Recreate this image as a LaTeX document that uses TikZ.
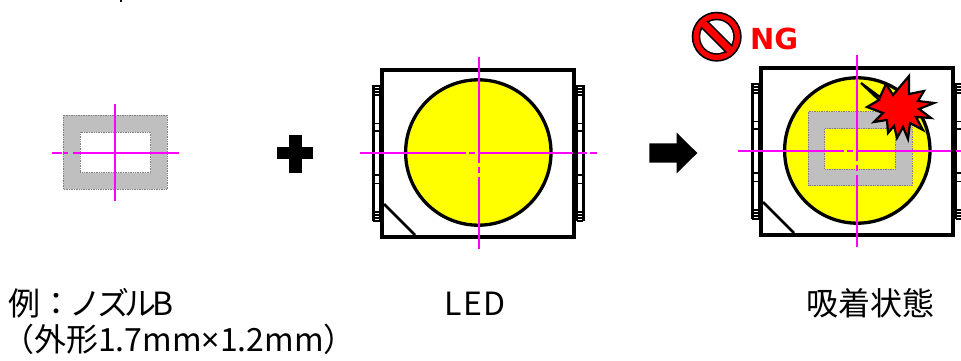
\documentclass[tikz,border=0pt]{standalone}
\usepackage{fontspec}
\setmainfont{Noto Sans CJK JP}
\newfontfamily\latinfont{Noto Sans}
\newfontfamily\ngfont{DejaVu Sans}

\definecolor{ctrline}{RGB}{255,0,255}
\definecolor{nozzlegray}{RGB}{191,191,191}
\definecolor{ledyellow}{RGB}{255,255,0}
\definecolor{ngred}{RGB}{255,0,0}

\tikzset{
    axis line/.style={draw=ctrline, line width=2pt},
    nozzle/.style={fill=nozzlegray, draw=gray, densely dotted, line width=0.7pt, even odd rule},
    body/.style={draw=black, fill=white, line width=4.3pt},
    pin/.style={line width=1.6pt},
    lbl/.style={font=\fontsize{32}{36}\selectfont, inner sep=0pt},
}

% LED chip, drawn at the place of the middle one
\newcommand{\ledchip}{%
    \foreach \xa/\xb in {373.3/379.5, 583.3/577.1} {
        \draw[line width=3pt] (\xa,85) -- (\xa,221);
        \draw[line width=2pt] (\xb,85) -- (\xb,221);
        \foreach \yy in {86,89,92,95,123.3,131,175,183.3,212,215,218,221}
            \draw[pin] (\xa,\yy) -- (\xb,\yy);
    }
    \draw[body] (382.2,69.8) rectangle (574.2,237);
    \draw[line width=2.8pt] (384,204) -- (415,235);
    \draw[line width=3.3pt, fill=ledyellow] (478.3,152.5) circle (72.7);
}
\newcommand{\ledaxes}{%
    \draw[axis line] (479,56.7) -- (479,163.3) (479,166.7) -- (479,173.3) (479,176.7) -- (479,249);
    \draw[axis line] (360,153) -- (466,153) (468.5,153) -- (475,153) (480,153) -- (573,153)
        (578,153) -- (587,153) (590,153) -- (597,153);
}
\newcommand{\nozzlering}{%
    \draw[nozzle] (63.3,115) rectangle (167.3,189.3) (80,132.3) rectangle (150.7,172.7);
}

\begin{document}
\begin{tikzpicture}[x=1pt, y=-1pt]
    \useasboundingbox (0,0) rectangle (961,361);

    \fill (120,0) rectangle (122,2.5);

    % nozzle
    \nozzlering
    \draw[axis line] (115,104) -- (115,201);
    \draw[axis line] (51.7,153) -- (61.7,153) (63.3,153) -- (68.3,153) (72.7,153) -- (179,153);

    % plus
    \fill (289,135) rectangle (302.3,172.7);
    \fill (277.3,146.7) rectangle (313.3,159.3);

    % LED
    \ledchip
    \ledaxes

    % arrow
    \fill (649.3,143.3) -- (676.7,143.3) -- (676.7,132.7) -- (697.3,153)
        -- (676.7,173.3) -- (676.7,162.7) -- (649.3,162.7) -- cycle;

    % picked up LED
    \begin{scope}[shift={(379,-2)}]
        \ledchip
    \end{scope}
    \begin{scope}[shift={(744.7,-3.5)}]
        \nozzlering
    \end{scope}
    \begin{scope}[shift={(378,-2)}]
        \ledaxes
    \end{scope}
    \draw[line width=2.2pt, line join=miter, fill=ngred]
        (861,83) -- (880,97) -- (886,84) -- (893,95) -- (909,76) -- (909,94)
        -- (924,91) -- (918,101) -- (934,103) -- (919,109) -- (931,118) -- (916,117)
        -- (923,130) -- (910,123) -- (908,139) -- (903,127) -- (897,138) -- (894,126)
        -- (888,133) -- (887,120) -- (874,122) -- (883,113) -- (867,107) -- (879,100) -- cycle;

    % NG mark
    \fill[black] (716.7,36.7) circle (25);
    \fill[ngred] (716.7,36.7) circle (23.3);
    \fill[black] (716.7,36.7) circle (18);
    \fill[white] (716.7,36.7) circle (16.4);
    \begin{scope}
        \clip (716.7,36.7) circle (18.6);
        \draw[line width=10pt] (702,22) -- (731.4,51.4);
        \draw[ngred, line width=7pt] (702,22) -- (731.4,51.4);
    \end{scope}
    \node[anchor=base west, inner sep=0pt, text=ngred, font=\ngfont\bfseries\fontsize{29}{34}\selectfont]
        (ng) at (750,50) {NG};

    % labels
    \node[lbl, anchor=base west] (nozzlelbl) at (8,315) {例：\kern-3ptノ\kern-4ptズ\kern-5ptル\kern-4ptB};
    \node[lbl, anchor=base west] (nozzlesize) at (2,351) {（外形1.7mm{\latinfont ×}1.2mm）};
    \node[lbl, anchor=base] (ledlbl) at (475,315) {L\kern1ptE\kern1ptD};
    \node[lbl, anchor=base] (statelbl) at (870,315) {吸着状態};
\end{tikzpicture}
\end{document}
